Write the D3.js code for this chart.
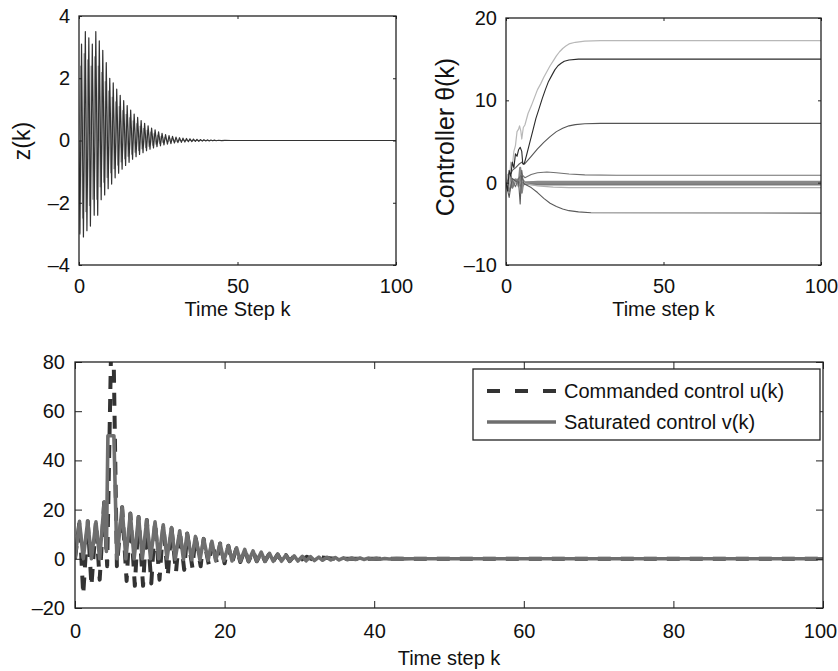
<!DOCTYPE html>
<html>
<head>
<meta charset="utf-8">
<script src="https://cdn.jsdelivr.net/npm/d3@7"></script>
<style>
  body { margin: 0; background: #fff; }
  text { font-family: "Liberation Sans", Arial, sans-serif; fill: #111; }
</style>
</head>
<body>
<div id="chart"></div>
<script>
// ---- data: [k, value] ----
const zDark = [[0,0],[0.3,-3.0],[0.8,3.1],[1.4,-3.1],[2.0,3.5],[2.5,-2.9],[3.1,3.3],[3.6,-2.75],[4.2,3.1],[4.8,-2.4],
  [5.3,3.5],[5.9,-2.4],[6.4,3.2],[7.0,-1.9],[7.5,2.9],[8.1,-1.75],[8.6,2.5],[9.2,-1.55],[9.7,2.0],[10.3,-1.4],
  [10.8,1.85],[11.4,-1.2],[11.9,1.65],[12.5,-1.05],[13.0,1.45],[13.6,-0.92],[14.1,1.28],[14.7,-0.8],[15.2,1.12],[15.8,-0.7],
  [16.3,0.98],[16.9,-0.6],[17.4,0.85],[18.0,-0.52],[18.5,0.74],[19.1,-0.45],[19.6,0.64],[20.2,-0.39],[20.7,0.55],[21.3,-0.33],
  [21.8,0.47],[22.4,-0.28],[22.9,0.4],[23.5,-0.24],[24.0,0.34],[24.6,-0.2],[25.1,0.28],[25.7,-0.17],[26.2,0.23],[26.8,-0.14],
  [27.3,0.19],[27.9,-0.12],[28.4,0.16],[29.0,-0.1],[29.5,0.13],[30.1,-0.08],[30.6,0.11],[31.2,-0.07],[31.7,0.09],[32.3,-0.06],
  [32.8,0.075],[33.4,-0.05],[33.9,0.065],[34.5,-0.04],[35.0,0.055],[35.6,-0.035],[36.1,0.045],[36.7,-0.03],[37.2,0.038],[37.8,-0.025],
  [38.3,0.03],[38.9,-0.02],[39.4,0.025],[40,-0.016],[40.5,0.02],[41.1,-0.013],[41.6,0.015],[42.2,-0.01],[42.7,0.012],[43.3,-0.008],
  [44,0.008],[45,-0.005],[46,0.004],[48,0],[100,0]];

const zGrey = [[0,0],[0.55,2.4],[1.1,-2.5],[1.65,2.8],[2.2,-2.3],[2.75,2.6],[3.3,-2.1],[3.85,2.4],[4.4,-1.9],[5.0,2.7],
  [5.6,-1.9],[6.1,2.4],[6.7,-1.5],[7.2,2.2],[7.8,-1.35],[8.3,1.9],[8.9,-1.2],[9.4,1.6],[10.0,-1.05],[10.5,1.4],
  [11.1,-0.92],[11.6,1.25],[12.2,-0.8],[12.7,1.1],[13.3,-0.7],[13.8,0.97],[14.4,-0.6],[14.9,0.85],[15.5,-0.52],[16.0,0.74],
  [16.6,-0.45],[17.1,0.64],[17.7,-0.39],[18.2,0.55],[18.8,-0.33],[19.3,0.47],[19.9,-0.28],[20.4,0.4],[21.0,-0.24],[21.5,0.34],
  [22.1,-0.2],[22.6,0.28],[23.2,-0.16],[23.7,0.23],[24.3,-0.13],[24.8,0.18],[25.4,-0.1],[25.9,0.14],[26.5,-0.08],[27,0.1],
  [28,-0.05],[29,0.06],[30,-0.03],[32,0],[100,0]];

// controller parameters theta(k), one array per component
const th1 = [[0,0],[0.5,1],[1,-0.5],[1.5,2.5],[2,2],[2.5,3.8],[3,4.5],[3.5,6.2],[4,6.5],[4.3,6.9],[4.7,6.3],[5,5.3],[5.5,6.7],
  [6,7],[7,8.4],[8,9.3],[9,10.3],[10,11.3],[11,12],[12,12.8],[13,13.5],[14,14.2],[15,14.8],[16,15.4],[17,15.9],[18,16.3],
  [19,16.6],[20,16.85],[22,17.05],[25,17.2],[30,17.25],[100,17.25]];
const th2 = [[0,0],[0.5,-1],[1,1.5],[1.5,0.8],[2,2.5],[2.5,1.8],[3,3.5],[3.5,3.2],[4,4],[4.5,4.3],[5,3.8],[5.3,2.4],[5.8,2.3],
  [6.5,3.3],[7.5,4.8],[8.5,6.3],[9.5,7.8],[10.5,9],[11.5,10.2],[12.5,11.3],[13.5,12.3],[14.5,13],[15.5,13.7],[16.5,14.2],
  [17.5,14.5],[18.5,14.75],[20,14.9],[23,15],[100,15]];
const th3 = [[0,0],[1,0.5],[2,1.5],[3,1.8],[4,2.2],[5,2.5],[5.5,2.2],[6,2.3],[8,3.2],[10,4.1],[12,4.9],[14,5.6],[16,6.2],
  [18,6.6],[20,6.9],[22,7.05],[25,7.15],[30,7.2],[100,7.2]];
const th4 = [[0,0],[1,1.2],[2,0.3],[3,-0.5],[4,0.5],[5,1.0],[6,0.6],[8,1.0],[10,1.2],[13,1.3],[16,1.2],[20,1.05],[25,0.95],
  [35,0.9],[100,0.9]];
const th5 = [[0,0],[1,-0.5],[2,0.5],[4,-0.5],[5,0.3],[6,-0.1],[10,-0.4],[15,-0.55],[20,-0.6],[100,-0.6]];
const th6 = [[0,0],[1,-1.8],[1.5,-0.5],[2,0.5],[3,0.2],[4,0.1],[4.5,-2.6],[5,1.5],[5.5,0],[6,-0.2],[8,-0.6],[10,-1.2],
  [12,-1.9],[14,-2.5],[16,-2.9],[18,-3.2],[20,-3.4],[23,-3.55],[27,-3.65],[100,-3.7]];
const th7 = [[0,0],[0.5,0.3],[1,-1],[1.5,0.8],[2,-0.2],[3,0.4],[4,-0.3],[4.5,1.8],[5,-1.2],[5.5,0.2],[6,0],[10,0.1],[100,0.1]];
const th8 = [[0,0],[1,0.5],[2,-0.6],[3,0.3],[4,-0.1],[5,0.5],[6,-0.15],[10,-0.2],[100,-0.2]];
const th9 = [[0,0],[2,0.2],[4,0.4],[5,-0.5],[6,0],[100,0]];

// commanded control u(k) and saturated control v(k)
const uCmd = [[0,0],[0.6,15.2],[1.1,-14.5],[1.7,15.3],[2.2,-11],[2.8,15],[3.3,-8.5],[3.9,23],[4.3,-3],[5.0,115],[5.6,-3],
  [6.3,21],[6.9,-9],[7.4,18.4],[8.0,-11],[8.5,17],[9.1,-11],[9.6,15.8],[10.2,-10],[10.7,15],[11.3,-8.5],[11.8,13.8],
  [12.4,-7],[12.9,12.7],[13.5,-5.5],[14.0,11.4],[14.6,-4.5],[15.0,10.3],[15.7,-3.6],[16.1,9.1],[16.8,-3],[17.2,8.1],
  [17.9,-2.5],[18.3,7.1],[19.0,-2],[19.4,6.2],[20.0,-1.8],[20.5,5.3],[21.0,-1.5],[21.6,4.5],[22.1,-1.3],[22.7,3.8],
  [23.2,-1.1],[23.8,3.2],[24.3,-1],[24.9,2.7],[25.4,-1],[26,2.2],[26.5,-1],[27.1,1.8],[27.6,-1],[28.2,1.5],[28.7,-0.95],
  [29.3,1.2],[30,-0.8],[31,0.8],[32,-0.6],[33,0.5],[35,0],[100,0]];
const vSat = [[0,0],[0.6,15.2],[1.1,0],[1.7,15.3],[2.2,0],[2.8,15],[3.3,0],[3.9,23],[4.2,3],[4.4,50],[5.2,50],[5.6,0],
  [6.3,21],[6.8,0],[7.4,18.4],[7.9,0],[8.5,17],[9.0,0],[9.6,15.8],[10.1,0],[10.7,15],[11.2,0],[11.8,13.8],[12.3,0],
  [12.9,12.7],[13.4,-0.2],[14.0,11.4],[14.5,-0.3],[15.0,10.3],[15.6,-0.4],[16.1,9.1],[16.7,-0.5],[17.2,8.1],[17.8,-0.6],
  [18.3,7.1],[18.8,-0.7],[19.4,6.2],[19.9,-0.8],[20.5,5.3],[21.0,-0.9],[21.6,4.5],[22.1,-1],[22.7,3.8],[23.2,-1],[23.8,3.2],
  [24.3,-1],[24.9,2.7],[25.4,-1],[26.0,2.2],[26.5,-1],[27.1,1.8],[27.6,-1],[28.2,1.5],[28.7,-0.95],[29.3,1.2],[29.8,-0.9],
  [30.4,1.0],[30.9,-0.8],[31.5,0.85],[32,-0.7],[32.6,0.7],[33.1,-0.6],[33.7,0.6],[34.2,-0.5],[34.8,0.5],[35.3,-0.45],
  [35.9,0.42],[36.4,-0.38],[37,0.35],[37.5,-0.3],[38.1,0.3],[38.6,-0.25],[39.2,0.25],[39.7,-0.2],[40.3,0.2],[40.8,-0.15],
  [41.4,0.15],[42,-0.1],[43,0.08],[44,-0.05],[45,0],[100,0]];

const legendLabels = ["Commanded control u(k)", "Saturated control v(k)"];

// ---- drawing ----
const svg = d3.select("#chart").append("svg")
    .attr("width", 838)
    .attr("height", 671);

const fmt = d => d < 0 ? "\u2013" + Math.abs(d) : String(d);

// builds one MATLAB-style axes box with inward ticks on all sides
function panel(id, box, xDom, yDom, xTicks, yTicks, tickLen, xPad, yPad) {
    const x = d3.scaleLinear().domain(xDom).range([box.left, box.right]);
    const y = d3.scaleLinear().domain(yDom).range([box.bottom, box.top]);

    svg.append("clipPath").attr("id", id)
        .append("rect")
        .attr("x", box.left).attr("y", box.top)
        .attr("width", box.right - box.left)
        .attr("height", box.bottom - box.top);

    const plot = svg.append("g").attr("clip-path", `url(#${id})`);
    const axes = svg.append("g");

    const xAxis = axes.append("g")
        .attr("transform", `translate(0,${box.bottom})`)
        .call(d3.axisBottom(x).tickValues(xTicks).tickSize(-tickLen).tickPadding(xPad).tickFormat(fmt));
    axes.append("g")
        .attr("transform", `translate(0,${box.top})`)
        .call(d3.axisTop(x).tickValues(xTicks).tickSize(-tickLen).tickFormat(""));
    axes.append("g")
        .attr("transform", `translate(${box.left},0)`)
        .call(d3.axisLeft(y).tickValues(yTicks).tickSize(-tickLen).tickPadding(yPad).tickFormat(fmt));
    axes.append("g")
        .attr("transform", `translate(${box.right},0)`)
        .call(d3.axisRight(y).tickValues(yTicks).tickSize(-tickLen).tickFormat(""));

    axes.selectAll(".domain").remove();
    axes.selectAll(".tick line").attr("stroke", "#222");
    axes.selectAll(".tick text").style("font-size", "20px").attr("fill", "#111");

    axes.append("rect")
        .attr("x", box.left).attr("y", box.top)
        .attr("width", box.right - box.left)
        .attr("height", box.bottom - box.top)
        .attr("fill", "none")
        .attr("stroke", "#222")
        .attr("stroke-width", 1.3);

    return { x, y, plot, xAxis };
}

function drawLine(p, data, color, width, dash) {
    const line = d3.line().x(d => p.x(d[0])).y(d => p.y(d[1]));
    const path = p.plot.append("path")
        .datum(data)
        .attr("fill", "none")
        .attr("stroke", color)
        .attr("stroke-width", width)
        .attr("stroke-linejoin", "round")
        .attr("d", line);
    if (dash) path.attr("stroke-dasharray", dash);
    return path;
}

// top-left: z(k)
const pz = panel("clipZ", { left: 79, right: 396, top: 16, bottom: 265 },
    [0, 100], [-4, 4], [0, 50, 100], [-4, -2, 0, 2, 4], 3, 14, 9);
drawLine(pz, zGrey, "#9a9a9a", 1);
drawLine(pz, zDark, "#333", 1.2);

// top-right: controller theta(k)
const pt = panel("clipT", { left: 506, right: 821, top: 18, bottom: 265 },
    [0, 100], [-10, 20], [0, 50, 100], [-10, 0, 10, 20], 3, 14, 9);
drawLine(pt, th9, "#8a8a8a", 2.2);
drawLine(pt, th8, "#7a7a7a", 2.2);
drawLine(pt, th7, "#888", 2.2);
drawLine(pt, th5, "#b0b0b0", 1.2);
drawLine(pt, th6, "#5a5a5a", 1.1);
drawLine(pt, th4, "#707070", 1.1);
drawLine(pt, th3, "#555", 1.1);
drawLine(pt, th1, "#b8b8b8", 1.2);
drawLine(pt, th2, "#2a2a2a", 1.1);

// bottom: u(k) and v(k)
const pu = panel("clipU", { left: 75, right: 823, top: 362, bottom: 608 },
    [0, 100], [-20, 80], [0, 20, 40, 60, 80, 100], [-20, 0, 20, 40, 60, 80], 7, 16, 10);
drawLine(pu, uCmd, "#333", 4, "13,10");
drawLine(pu, vSat, "#6e6e6e", 3.6);
// keep the last x label inside the window edge
pu.xAxis.selectAll(".tick text").filter(d => d === 100).attr("dx", "-3");

// axis titles
svg.append("text").attr("x", 237.5).attr("y", 316).attr("text-anchor", "middle")
    .style("font-size", "20px").text("Time Step k");
svg.append("text").attr("x", 663.5).attr("y", 316).attr("text-anchor", "middle")
    .style("font-size", "20px").text("Time step k");
svg.append("text").attr("x", 449).attr("y", 665).attr("text-anchor", "middle")
    .style("font-size", "20px").text("Time step k");
svg.append("text").attr("transform", "translate(30,141) rotate(-90)").attr("text-anchor", "middle")
    .style("font-size", "23px").text("z(k)");
svg.append("text").attr("transform", "translate(454,137) rotate(-90)").attr("text-anchor", "middle")
    .style("font-size", "25px").text("Controller \u03b8(k)");

// legend
const lg = svg.append("g");
lg.append("rect")
    .attr("x", 473).attr("y", 369).attr("width", 347).attr("height", 71)
    .attr("fill", "#fff").attr("stroke", "#222").attr("stroke-width", 1.3);
const items = lg.selectAll(".item")
    .data(legendLabels)
    .enter().append("g")
    .attr("class", "item")
    .attr("transform", (d, i) => `translate(0,${391 + i * 31})`);
items.append("line")
    .attr("x1", 487).attr("x2", 556)
    .attr("stroke", (d, i) => i === 0 ? "#333" : "#6e6e6e")
    .attr("stroke-width", (d, i) => i === 0 ? 4 : 3.6)
    .attr("stroke-dasharray", (d, i) => i === 0 ? "13,15" : null);
items.append("text")
    .attr("x", 564).attr("dy", "0.35em")
    .style("font-size", "20px")
    .text(d => d);
</script>
</body>
</html>
